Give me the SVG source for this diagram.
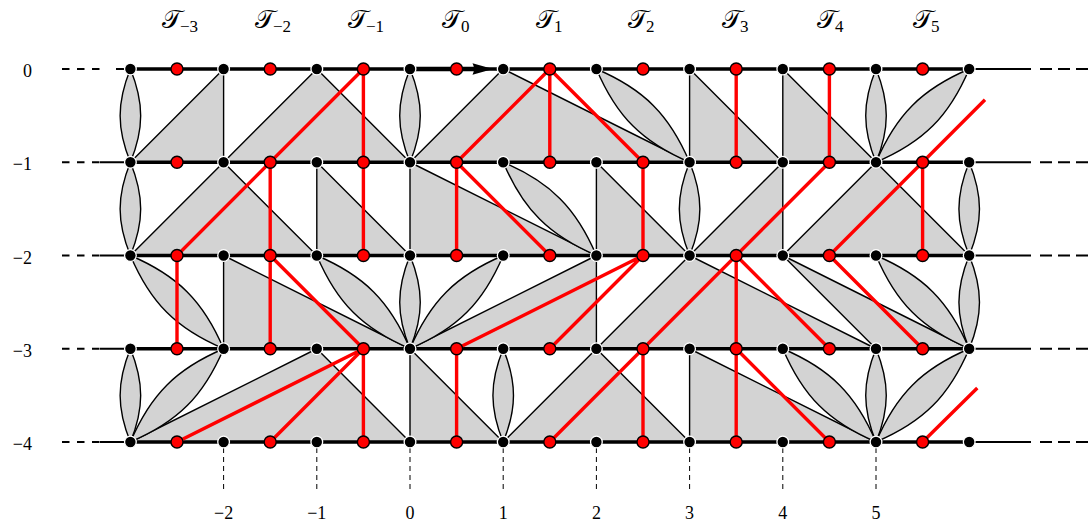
<svg xmlns="http://www.w3.org/2000/svg" width="1091" height="522" viewBox="0 0 1091 522">
<style>
.cell{fill:#d3d3d3;stroke:#000;stroke-width:1.4;stroke-linejoin:round}
.row{stroke:#000;stroke-width:3.6;fill:none}
.thin{stroke:#000;stroke-width:2;fill:none}
.dash{stroke:#000;stroke-width:2.2;stroke-dasharray:7.5 7.5;fill:none}
.rdash{stroke:#000;stroke-width:2.2;stroke-dasharray:12 6;fill:none}
.tick{stroke:#000;stroke-width:1;stroke-dasharray:5 4;fill:none}
.red{stroke:#f00;stroke-width:3.4;fill:none}
.b{fill:#000;stroke:#fff;stroke-width:1.3}
.r{fill:#f00;stroke:#000;stroke-width:1.4}
.lab{font-family:"Liberation Serif","DejaVu Serif",serif;font-size:18px;fill:#000}
.T{font-family:"DejaVu Serif","DejaVu Sans","Noto Sans",serif;font-size:26px;fill:#000}
.sub{font-family:"Liberation Serif","DejaVu Serif",serif;font-size:17px;fill:#000}
</style>
<defs>
<path id="lv" d="M0,0 C13.7,33.8 13.7,59.45 0,93.25 C-13.7,59.45 -13.7,33.8 0,0Z"/>
<path id="ldr" d="M0,0 C47.45,20.15 73.05,45.8 93.2,93.25 C45.75,73.1 20.15,47.45 0,0Z"/>
<path id="ldl" d="M0,0 C-20.15,47.45 -45.75,73.1 -93.2,93.25 C-73.05,45.8 -47.45,20.15 0,0Z"/>
</defs>
<g id="labels">
<text class="T" x="162" y="28">𝒯</text><text class="sub" x="180" y="31.5">−3</text>
<text class="T" x="255" y="28">𝒯</text><text class="sub" x="273" y="31.5">−2</text>
<text class="T" x="348" y="28">𝒯</text><text class="sub" x="366" y="31.5">−1</text>
<text class="T" x="442" y="28">𝒯</text><text class="sub" x="461" y="31.5">0</text>
<text class="T" x="536" y="28">𝒯</text><text class="sub" x="554" y="31.5">1</text>
<text class="T" x="628" y="28">𝒯</text><text class="sub" x="646" y="31.5">2</text>
<text class="T" x="722" y="28">𝒯</text><text class="sub" x="740" y="31.5">3</text>
<text class="T" x="817" y="28">𝒯</text><text class="sub" x="835" y="31.5">4</text>
<text class="T" x="913" y="28">𝒯</text><text class="sub" x="931" y="31.5">5</text>
<text class="lab" x="32" y="77" text-anchor="end">0</text>
<text class="lab" x="32" y="170.25" text-anchor="end">−1</text>
<text class="lab" x="32" y="263.5" text-anchor="end">−2</text>
<text class="lab" x="32" y="356.75" text-anchor="end">−3</text>
<text class="lab" x="32" y="450" text-anchor="end">−4</text>
<text class="lab" x="223.6" y="519" text-anchor="middle">−2</text>
<text class="lab" x="316.8" y="519" text-anchor="middle">−1</text>
<text class="lab" x="410" y="519" text-anchor="middle">0</text>
<text class="lab" x="503.2" y="519" text-anchor="middle">1</text>
<text class="lab" x="596.4" y="519" text-anchor="middle">2</text>
<text class="lab" x="689.6" y="519" text-anchor="middle">3</text>
<text class="lab" x="782.8" y="519" text-anchor="middle">4</text>
<text class="lab" x="876" y="519" text-anchor="middle">5</text>
</g>
<g id="ticks">
<path class="tick" d="M223.6,448V490M316.8,448V490M410,448V490M503.2,448V490M596.4,448V490M689.6,448V490M782.8,448V490M876,448V490"/>
</g>
<g id="cells">
<polygon class="cell" points="130.4,162.25 223.6,69 223.6,162.25"/>
<polygon class="cell" points="223.6,162.25 316.8,69 410,162.25"/>
<polygon class="cell" points="410,162.25 503.2,69 689.6,162.25"/>
<polygon class="cell" points="689.6,69 689.6,162.25 782.8,162.25"/>
<polygon class="cell" points="782.8,69 782.8,162.25 876,162.25"/>
<polygon class="cell" points="130.4,255.5 223.6,162.25 316.8,255.5"/>
<polygon class="cell" points="316.8,162.25 316.8,255.5 410,255.5"/>
<polygon class="cell" points="410,162.25 410,255.5 596.4,255.5"/>
<polygon class="cell" points="596.4,162.25 596.4,255.5 689.6,255.5"/>
<polygon class="cell" points="689.6,255.5 782.8,162.25 782.8,255.5"/>
<polygon class="cell" points="782.8,255.5 876,162.25 969.2,255.5"/>
<polygon class="cell" points="223.6,255.5 223.6,348.75 410,348.75"/>
<polygon class="cell" points="410,348.75 596.4,255.5 596.4,348.75"/>
<polygon class="cell" points="596.4,348.75 689.6,255.5 876,348.75"/>
<polygon class="cell" points="782.8,255.5 876,348.75 969.2,348.75"/>
<polygon class="cell" points="130.4,442 316.8,348.75 410,442"/>
<polygon class="cell" points="410,348.75 410,442 503.2,442"/>
<polygon class="cell" points="503.2,442 596.4,348.75 689.6,442"/>
<polygon class="cell" points="689.6,348.75 689.6,442 876,442"/>
<use href="#lv" class="cell" x="130.4" y="69"/>
<use href="#lv" class="cell" x="410" y="69"/>
<use href="#lv" class="cell" x="876" y="69"/>
<use href="#ldr" class="cell" x="596.4" y="69"/>
<use href="#ldl" class="cell" x="969.2" y="69"/>
<use href="#lv" class="cell" x="130.4" y="162.25"/>
<use href="#lv" class="cell" x="689.6" y="162.25"/>
<use href="#lv" class="cell" x="969.2" y="162.25"/>
<use href="#ldr" class="cell" x="503.2" y="162.25"/>
<use href="#ldr" class="cell" x="130.4" y="255.5"/>
<use href="#ldr" class="cell" x="316.8" y="255.5"/>
<use href="#ldr" class="cell" x="876" y="255.5"/>
<use href="#lv" class="cell" x="410" y="255.5"/>
<use href="#lv" class="cell" x="969.2" y="255.5"/>
<use href="#ldl" class="cell" x="503.2" y="255.5"/>
<use href="#lv" class="cell" x="130.4" y="348.75"/>
<use href="#lv" class="cell" x="503.2" y="348.75"/>
<use href="#lv" class="cell" x="876" y="348.75"/>
<use href="#ldl" class="cell" x="223.6" y="348.75"/>
<use href="#ldl" class="cell" x="969.2" y="348.75"/>
<use href="#ldr" class="cell" x="782.8" y="348.75"/>
</g>
<g id="rows">
<path class="row" d="M130.4,69H969.2M130.4,162.25H969.2M130.4,255.5H969.2M130.4,348.75H969.2M130.4,442H969.2"/>
<path d="M410,69H480" stroke="#000" stroke-width="4.6"/>
<path class="dash" d="M62,69H100M62,162.25H100M62,255.5H100M62,348.75H100M62,442H100"/>
<path class="thin" d="M116,69H130M100,162.25H130M100,255.5H130M100,348.75H130M100,442H130"/>
<path class="thin" d="M969,69H1031M969,162.25H1031M969,255.5H1031M969,348.75H1031M969,442H1031"/>
<path class="rdash" d="M1040,69H1091M1040,162.25H1091M1040,255.5H1091M1040,348.75H1091M1040,442H1091"/>
<path d="M472.5,63.3 L493,69 L472.5,74.7 Q475.5,69 472.5,63.3Z" fill="#000"/>
</g>
<g id="connectors">
<path class="red" d="M177,255.5L363.4,69M363.4,69V255.5M456.6,162.25L549.8,69M549.8,69V162.25M549.8,69L643,162.25M736.2,69V162.25M829.4,69V162.25M829.4,255.5L985,99.8"/>
<path class="red" d="M270.2,162.25V348.75M456.6,162.25V255.5M456.6,162.25L549.8,255.5M643,162.25V255.5M549.8,442L829.4,162.25M922.6,162.25V255.5"/>
<path class="red" d="M177,255.5V348.75M270.2,255.5L363.4,348.75M643,255.5L456.6,348.75M643,255.5L549.8,348.75M736.2,255.5V442M736.2,255.5L829.4,348.75M829.4,255.5L922.6,348.75"/>
<path class="red" d="M177,442L363.4,348.75M270.2,442L363.4,348.75M363.4,348.75V442M456.6,348.75V442M643,348.75V442M736.2,348.75L829.4,442M922.6,442L977.3,388"/>
</g>
<g id="nodes">
<g id="b_m3_0"><circle class="b" cx="130.4" cy="69" r="5.85"/></g>
<g id="b_m2_0"><circle class="b" cx="223.6" cy="69" r="5.85"/></g>
<g id="b_m1_0"><circle class="b" cx="316.8" cy="69" r="5.85"/></g>
<g id="b_0_0"><circle class="b" cx="410" cy="69" r="5.85"/></g>
<g id="b_1_0"><circle class="b" cx="503.2" cy="69" r="5.85"/></g>
<g id="b_2_0"><circle class="b" cx="596.4" cy="69" r="5.85"/></g>
<g id="b_3_0"><circle class="b" cx="689.6" cy="69" r="5.85"/></g>
<g id="b_4_0"><circle class="b" cx="782.8" cy="69" r="5.85"/></g>
<g id="b_5_0"><circle class="b" cx="876" cy="69" r="5.85"/></g>
<g id="b_6_0"><circle class="b" cx="969.2" cy="69" r="5.85"/></g>
<g id="b_m3_1"><circle class="b" cx="130.4" cy="162.25" r="5.85"/></g>
<g id="b_m2_1"><circle class="b" cx="223.6" cy="162.25" r="5.85"/></g>
<g id="b_m1_1"><circle class="b" cx="316.8" cy="162.25" r="5.85"/></g>
<g id="b_0_1"><circle class="b" cx="410" cy="162.25" r="5.85"/></g>
<g id="b_1_1"><circle class="b" cx="503.2" cy="162.25" r="5.85"/></g>
<g id="b_2_1"><circle class="b" cx="596.4" cy="162.25" r="5.85"/></g>
<g id="b_3_1"><circle class="b" cx="689.6" cy="162.25" r="5.85"/></g>
<g id="b_4_1"><circle class="b" cx="782.8" cy="162.25" r="5.85"/></g>
<g id="b_5_1"><circle class="b" cx="876" cy="162.25" r="5.85"/></g>
<g id="b_6_1"><circle class="b" cx="969.2" cy="162.25" r="5.85"/></g>
<g id="b_m3_2"><circle class="b" cx="130.4" cy="255.5" r="5.85"/></g>
<g id="b_m2_2"><circle class="b" cx="223.6" cy="255.5" r="5.85"/></g>
<g id="b_m1_2"><circle class="b" cx="316.8" cy="255.5" r="5.85"/></g>
<g id="b_0_2"><circle class="b" cx="410" cy="255.5" r="5.85"/></g>
<g id="b_1_2"><circle class="b" cx="503.2" cy="255.5" r="5.85"/></g>
<g id="b_2_2"><circle class="b" cx="596.4" cy="255.5" r="5.85"/></g>
<g id="b_3_2"><circle class="b" cx="689.6" cy="255.5" r="5.85"/></g>
<g id="b_4_2"><circle class="b" cx="782.8" cy="255.5" r="5.85"/></g>
<g id="b_5_2"><circle class="b" cx="876" cy="255.5" r="5.85"/></g>
<g id="b_6_2"><circle class="b" cx="969.2" cy="255.5" r="5.85"/></g>
<g id="b_m3_3"><circle class="b" cx="130.4" cy="348.75" r="5.85"/></g>
<g id="b_m2_3"><circle class="b" cx="223.6" cy="348.75" r="5.85"/></g>
<g id="b_m1_3"><circle class="b" cx="316.8" cy="348.75" r="5.85"/></g>
<g id="b_0_3"><circle class="b" cx="410" cy="348.75" r="5.85"/></g>
<g id="b_1_3"><circle class="b" cx="503.2" cy="348.75" r="5.85"/></g>
<g id="b_2_3"><circle class="b" cx="596.4" cy="348.75" r="5.85"/></g>
<g id="b_3_3"><circle class="b" cx="689.6" cy="348.75" r="5.85"/></g>
<g id="b_4_3"><circle class="b" cx="782.8" cy="348.75" r="5.85"/></g>
<g id="b_5_3"><circle class="b" cx="876" cy="348.75" r="5.85"/></g>
<g id="b_6_3"><circle class="b" cx="969.2" cy="348.75" r="5.85"/></g>
<g id="b_m3_4"><circle class="b" cx="130.4" cy="442" r="5.85"/></g>
<g id="b_m2_4"><circle class="b" cx="223.6" cy="442" r="5.85"/></g>
<g id="b_m1_4"><circle class="b" cx="316.8" cy="442" r="5.85"/></g>
<g id="b_0_4"><circle class="b" cx="410" cy="442" r="5.85"/></g>
<g id="b_1_4"><circle class="b" cx="503.2" cy="442" r="5.85"/></g>
<g id="b_2_4"><circle class="b" cx="596.4" cy="442" r="5.85"/></g>
<g id="b_3_4"><circle class="b" cx="689.6" cy="442" r="5.85"/></g>
<g id="b_4_4"><circle class="b" cx="782.8" cy="442" r="5.85"/></g>
<g id="b_5_4"><circle class="b" cx="876" cy="442" r="5.85"/></g>
<g id="b_6_4"><circle class="b" cx="969.2" cy="442" r="5.85"/></g>
<g id="r_m25_0"><circle class="r" cx="177" cy="69" r="6"/></g>
<g id="r_m15_0"><circle class="r" cx="270.2" cy="69" r="6"/></g>
<g id="r_m05_0"><circle class="r" cx="363.4" cy="69" r="6"/></g>
<g id="r_05_0"><circle class="r" cx="456.6" cy="69" r="6"/></g>
<g id="r_15_0"><circle class="r" cx="549.8" cy="69" r="6"/></g>
<g id="r_25_0"><circle class="r" cx="643" cy="69" r="6"/></g>
<g id="r_35_0"><circle class="r" cx="736.2" cy="69" r="6"/></g>
<g id="r_45_0"><circle class="r" cx="829.4" cy="69" r="6"/></g>
<g id="r_55_0"><circle class="r" cx="922.6" cy="69" r="6"/></g>
<g id="r_m25_1"><circle class="r" cx="177" cy="162.25" r="6"/></g>
<g id="r_m15_1"><circle class="r" cx="270.2" cy="162.25" r="6"/></g>
<g id="r_m05_1"><circle class="r" cx="363.4" cy="162.25" r="6"/></g>
<g id="r_05_1"><circle class="r" cx="456.6" cy="162.25" r="6"/></g>
<g id="r_15_1"><circle class="r" cx="549.8" cy="162.25" r="6"/></g>
<g id="r_25_1"><circle class="r" cx="643" cy="162.25" r="6"/></g>
<g id="r_35_1"><circle class="r" cx="736.2" cy="162.25" r="6"/></g>
<g id="r_45_1"><circle class="r" cx="829.4" cy="162.25" r="6"/></g>
<g id="r_55_1"><circle class="r" cx="922.6" cy="162.25" r="6"/></g>
<g id="r_m25_2"><circle class="r" cx="177" cy="255.5" r="6"/></g>
<g id="r_m15_2"><circle class="r" cx="270.2" cy="255.5" r="6"/></g>
<g id="r_m05_2"><circle class="r" cx="363.4" cy="255.5" r="6"/></g>
<g id="r_05_2"><circle class="r" cx="456.6" cy="255.5" r="6"/></g>
<g id="r_15_2"><circle class="r" cx="549.8" cy="255.5" r="6"/></g>
<g id="r_25_2"><circle class="r" cx="643" cy="255.5" r="6"/></g>
<g id="r_35_2"><circle class="r" cx="736.2" cy="255.5" r="6"/></g>
<g id="r_45_2"><circle class="r" cx="829.4" cy="255.5" r="6"/></g>
<g id="r_55_2"><circle class="r" cx="922.6" cy="255.5" r="6"/></g>
<g id="r_m25_3"><circle class="r" cx="177" cy="348.75" r="6"/></g>
<g id="r_m15_3"><circle class="r" cx="270.2" cy="348.75" r="6"/></g>
<g id="r_m05_3"><circle class="r" cx="363.4" cy="348.75" r="6"/></g>
<g id="r_05_3"><circle class="r" cx="456.6" cy="348.75" r="6"/></g>
<g id="r_15_3"><circle class="r" cx="549.8" cy="348.75" r="6"/></g>
<g id="r_25_3"><circle class="r" cx="643" cy="348.75" r="6"/></g>
<g id="r_35_3"><circle class="r" cx="736.2" cy="348.75" r="6"/></g>
<g id="r_45_3"><circle class="r" cx="829.4" cy="348.75" r="6"/></g>
<g id="r_55_3"><circle class="r" cx="922.6" cy="348.75" r="6"/></g>
<g id="r_m25_4"><circle class="r" cx="177" cy="442" r="6"/></g>
<g id="r_m15_4"><circle class="r" cx="270.2" cy="442" r="6"/></g>
<g id="r_m05_4"><circle class="r" cx="363.4" cy="442" r="6"/></g>
<g id="r_05_4"><circle class="r" cx="456.6" cy="442" r="6"/></g>
<g id="r_15_4"><circle class="r" cx="549.8" cy="442" r="6"/></g>
<g id="r_25_4"><circle class="r" cx="643" cy="442" r="6"/></g>
<g id="r_35_4"><circle class="r" cx="736.2" cy="442" r="6"/></g>
<g id="r_45_4"><circle class="r" cx="829.4" cy="442" r="6"/></g>
<g id="r_55_4"><circle class="r" cx="922.6" cy="442" r="6"/></g>
</g>
</svg>
